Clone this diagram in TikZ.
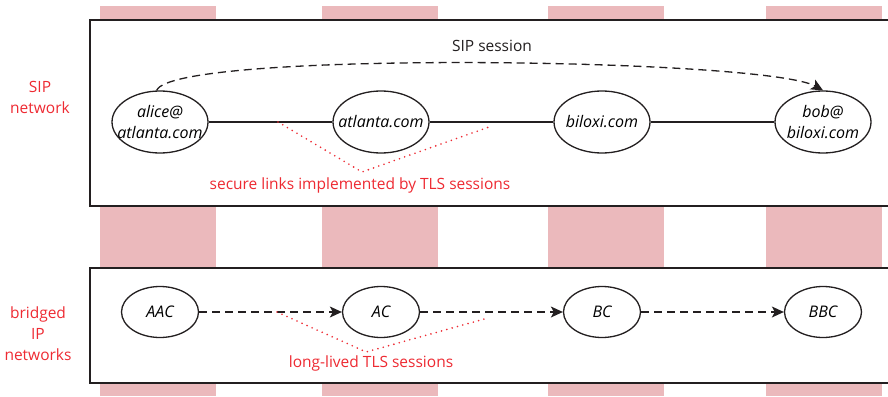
\documentclass[tikz,border=0pt]{standalone}
\usepackage{fontspec}
\setmainfont{Open Sans}
\usetikzlibrary{shapes.geometric,arrows.meta,positioning}
\definecolor{ink}{HTML}{231F20}
\definecolor{tlsred}{HTML}{EE2A32}
\definecolor{band}{HTML}{EBB9BC}
\begin{document}
\begin{tikzpicture}[x=1pt, y=-1pt, font=\fontsize{15.5}{21}\selectfont,
    host/.style = {draw=ink, ellipse, line width=1.3pt, fill=white, inner sep=0pt,
      inner xsep=-10pt, minimum width=96pt, minimum height=62pt, align=center,
      font=\fontsize{16}{21}\selectfont\itshape},
    ca/.style = {host, minimum width=77pt, minimum height=51pt},
    netbox/.style = {draw=ink, line width=1.4pt, fill=white},
    link/.style = {draw=ink, line width=1.2pt},
    tls/.style = {draw=tlsred, line width=1.8pt, line cap=round, dash pattern=on 0pt off 5.5pt},
    sess/.style = {draw=ink, line width=1.3pt, dash pattern=on 8pt off 5pt,
      -{Stealth[length=12pt, width=11pt, inset=3pt]}},
    note/.style = {text=tlsred, align=center},
    node distance=221pt]
  \clip (0,0) rectangle (888,396);
  % background bands and the two layers
  \foreach \bx in {100,322,548,766}
    \fill[band] (\bx,6) rectangle (\bx+116,396);
  \draw[netbox] (90,20) rectangle (900,206);
  \draw[netbox] (90,268) rectangle (900,383);
  %
  \node[host] (alice) at (160,122) {alice@\\atlanta.com};
  \node[host] (atl) [right of=alice] {atlanta.com};
  \node[host] (bil) [right of=atl] {biloxi.com};
  \node[host] (bob) [right of=bil] {bob@\\biloxi.com};
  \node[ca] (aac) [below of=alice, node distance=190pt] {AAC};
  \node[ca] (ac) [right of=aac] {AC};
  \node[ca] (bc) [right of=ac] {BC};
  \node[ca] (bbc) [right of=bc] {BBC};
  %
  \node[note] (sipnet) at (40,97) {SIP\\network};
  \node[note] (ipnet) at (38,334) {bridged\\IP\\networks};
  \node[text=ink] (siplabel) at (492,46) {SIP session};
  \node[note] (secure) at (360,185) {secure links implemented by TLS sessions};
  \node[note] (longtls) at (371,363) {long-lived TLS sessions};
  %
  \draw[link] (alice) -- (atl);
  \draw[link] (atl) -- (bil);
  \draw[link] (bil) -- (bob);
  \draw[sess] (alice.96) .. controls (172,50) and (765,58) .. (bob.north);
  %
  \draw[sess] (aac) -- (ac);
  \draw[sess] (ac) -- (bc);
  \draw[sess] (bc) -- (bbc);
  %
  \coordinate (tlsA) at (278,122);
  \coordinate (tlsB) at (362,172);
  \coordinate (tlsC) at (489,127);
  \draw[tls] (tlsA) -- (tlsB) -- (tlsC);
  \coordinate (ltlsA) at (277,312);
  \coordinate (ltlsB) at (366,352);
  \coordinate (ltlsC) at (488,318);
  \draw[tls] (ltlsA) -- (ltlsB) -- (ltlsC);
\end{tikzpicture}
\end{document}
